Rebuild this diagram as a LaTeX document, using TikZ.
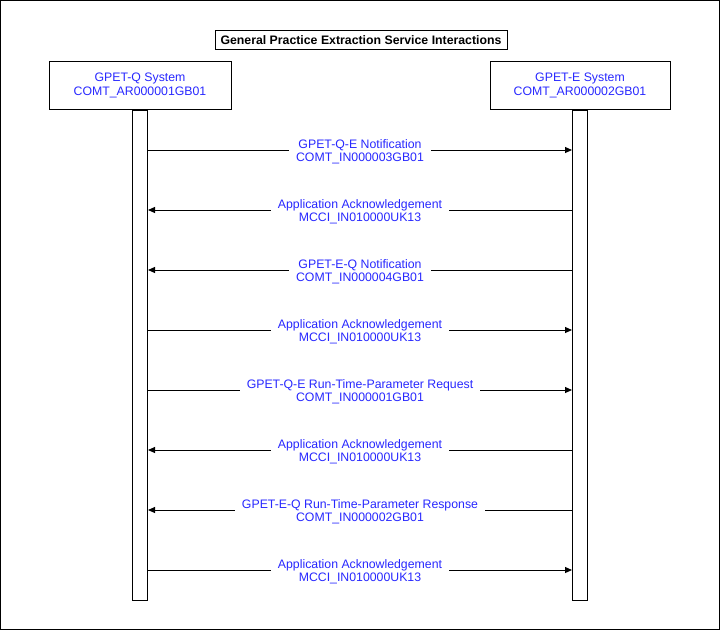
\documentclass[tikz,border=0pt]{standalone}
\usepackage{fontspec}
\setmainfont{Liberation Sans}
\usetikzlibrary{arrows.meta}
\definecolor{lbl}{RGB}{40,40,255}
\begin{document}
\begin{tikzpicture}[x=1pt,y=-1pt,line width=1pt,
  every node/.style={font=\fontsize{12.3}{13.5}\selectfont},
  sysbox/.style={draw,align=center,text=lbl,minimum height=48pt,inner sep=0pt},
  bar/.style={draw,fill=white,minimum width=15pt,minimum height=490pt,inner sep=0pt},
  msg/.style={fill=white,align=center,text=lbl,inner xsep=7pt,inner ysep=1pt},
  arr/.style={-{Triangle[length=7pt,width=6pt]}}]
\useasboundingbox (0,0) rectangle (720,630);
\draw (0.5,0.5) rectangle (719.5,629.5);
\node[draw,minimum width=292pt,minimum height=19pt,inner sep=0pt,font=\fontsize{12.3}{13.5}\selectfont\bfseries] (title) at (361,40) {General Practice Extraction Service Interactions};
\node[sysbox,minimum width=182pt] (q) at (140,85.5) {GPET-Q System\\COMT\_AR000001GB01};
\node[sysbox,minimum width=180pt] (e) at (580,85.5) {GPET-E System\\COMT\_AR000002GB01};
\node[bar,anchor=north] (lq) at (q.south) {};
\node[bar,anchor=north] (le) at (e.south) {};
\foreach \i/\y/\dir/\a/\b in {
 1/150/r/GPET-Q-E Notification/COMT\_IN000003GB01,
 2/210/l/Application Acknowledgement/MCCI\_IN010000UK13,
 3/270/l/GPET-E-Q Notification/COMT\_IN000004GB01,
 4/330/r/Application Acknowledgement/MCCI\_IN010000UK13,
 5/390/r/GPET-Q-E Run-Time-Parameter Request/COMT\_IN000001GB01,
 6/450/l/Application Acknowledgement/MCCI\_IN010000UK13,
 7/510/l/GPET-E-Q Run-Time-Parameter Response/COMT\_IN000002GB01,
 8/570/r/Application Acknowledgement/MCCI\_IN010000UK13}{
  \coordinate (ql\i) at (lq.east |- 0,\y);
  \coordinate (el\i) at (le.west |- 0,\y);
  \if r\dir
    \draw[arr] (ql\i) -- (el\i);
  \else
    \draw[arr] (el\i) -- (ql\i);
  \fi
  \node[msg] (m\i) at (360,\y+1.8) {\a\\\b};
}
\end{tikzpicture}
\end{document}
